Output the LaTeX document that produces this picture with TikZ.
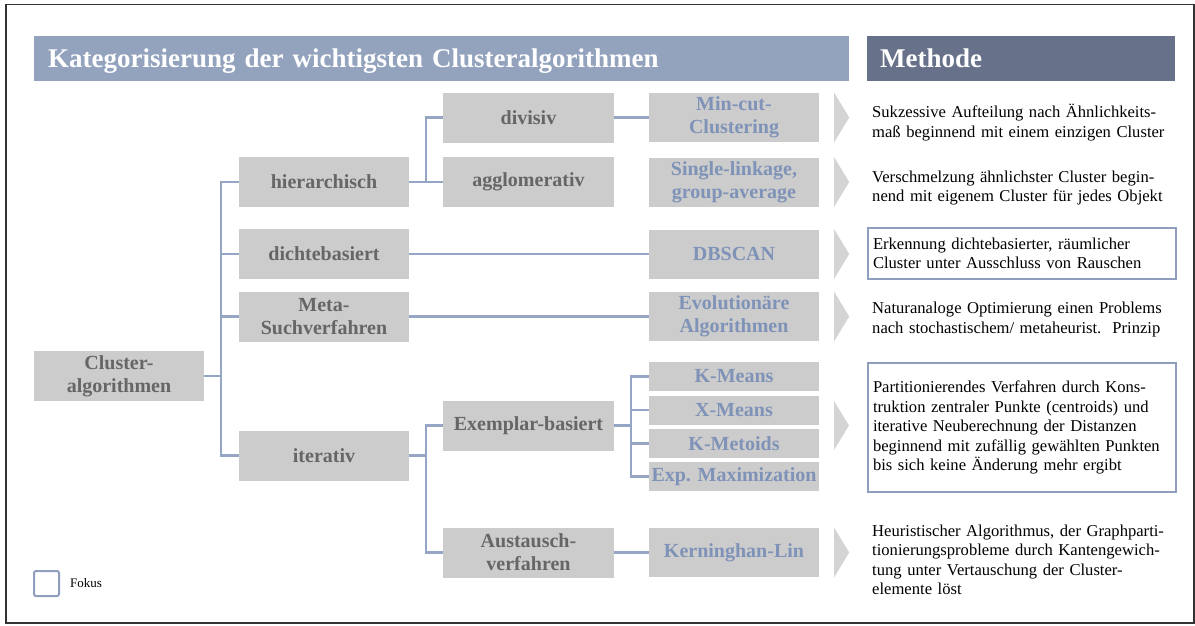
\documentclass[tikz,border=0pt]{standalone}
\usepackage{fontspec}
\setmainfont{Liberation Serif}
\usetikzlibrary{positioning}

\definecolor{headlight}{HTML}{93A3BE}
\definecolor{headdark}{HTML}{67728A}
\definecolor{boxgray}{HTML}{CCCCCC}
\definecolor{catgray}{HTML}{666666}
\definecolor{methblue}{HTML}{7F92B7}
\definecolor{connblue}{HTML}{94A6C4}
\definecolor{chevgray}{HTML}{D4D4D4}
\definecolor{focusblue}{HTML}{8E9EBC}

\newcommand{\titlefont}{\fontsize{27}{31}\selectfont\bfseries}
\newcommand{\catfont}{\fontsize{20}{23}\selectfont\bfseries}
\newcommand{\descfont}{\fontsize{16.6}{19.5}\selectfont}

\tikzset{
  headbox/.style={text=white, font=\titlefont, minimum height=45pt, text height=18.5pt,
    text depth=0pt, inner ysep=0pt, align=left, anchor=west},
  catbox/.style={fill=boxgray, text=catgray, font=\catfont, minimum width=170pt,
    minimum height=50pt, inner sep=0pt, align=center},
  methbox/.style={catbox, text=methblue, minimum height=49pt},
  smallbox/.style={methbox, minimum height=29pt},
  conn/.style={draw=connblue, line width=2.5pt},
  desc/.style={anchor=west, text width=298pt, inner xsep=5pt, align=left, font=\descfont},
  focus/.style={draw=focusblue, line width=2pt},
  chevron/.style={fill=chevgray},
}

\begin{document}
\begin{tikzpicture}[x=1pt, y=-1pt]
    \useasboundingbox (0,0) rectangle (1195,625);
    \draw[line width=1.3pt, black!80] (6,4.5) rectangle (1194,623);

    \node[headbox, fill=headlight, text width=787pt, inner xsep=14pt] (title) at (34,58.5)
      {Kategorisierung der wichtigsten Clusteralgorithmen};
    \node[headbox, fill=headdark, text width=282pt, inner xsep=13pt] (methode) at (867,58.5)
      {Methode};

    \node[catbox] (root) at (119,376) {Cluster-\\algorithmen};

    \node[catbox] (hier) at (324,182) {hierarchisch};
    \node[catbox] (dicht) at (324,254) {dichtebasiert};
    \node[catbox] (meta) at (324,316.5) {Meta-\\Suchverfahren};
    \node[catbox] (iter) at (324,455.5) {iterativ};

    \node[catbox, minimum width=171pt] (div) at (528.5,117.5) {divisiv};
    \node[catbox, minimum width=171pt] (agg) at (528.5,182) {agglomerativ};
    \node[catbox, minimum width=171pt] (exemplar) at (528.5,425.5) {Exemplar-basiert};
    \node[catbox, minimum width=171pt] (austausch) at (528.5,552.5) {Austausch-\\verfahren};

    \node[methbox] (mincut) at (734,117.5) {Min-cut-\\Clustering};
    \node[methbox] (single) at (734,182) {Single-linkage,\\group-average};
    \node[methbox] (dbscan) at (734,254) {DBSCAN};
    \node[methbox] (evo) at (734,316.5) {Evolutionäre\\Algorithmen};
    \node[smallbox] (kmeans) at (734,376.5) {K-Means};
    \node[smallbox] (xmeans) at (734,410) {X-Means};
    \node[smallbox] (kmetoids) at (734,443.5) {K-Metoids};
    \node[smallbox] (expmax) at (734,476.5) {Exp. Maximization};
    \node[methbox] (kerning) at (734,552.5) {Kerninghan-Lin};

    \coordinate (j1) at ([xshift=17pt]root.east);
    \coordinate (j2) at ([xshift=17pt]hier.east);
    \coordinate (j3) at ([xshift=17pt]iter.east);
    \coordinate (j4) at ([xshift=17pt]exemplar.east);

    \draw[conn] (root.east) -- (j1);
    \foreach \n in {hier,dicht,meta,iter}
      \draw[conn] (j1) |- (\n.west);
    \draw[conn] (hier.east) -- (j2);
    \foreach \n in {div,agg}
      \draw[conn] (j2) |- (\n.west);
    \draw[conn] (iter.east) -- (j3);
    \foreach \n in {exemplar,austausch}
      \draw[conn] (j3) |- (\n.west);
    \draw[conn] (exemplar.east) -- (j4);
    \foreach \n in {kmeans,xmeans,kmetoids,expmax}
      \draw[conn] (j4) |- (\n.west);
    \draw[conn] (div.east) -- (mincut.west);
    \draw[conn] (dicht.east) -- (dbscan.west);
    \draw[conn] (meta.east) -- (evo.west);
    \draw[conn] (austausch.east) -- (kerning.west);

    \foreach \m in {mincut,single,dbscan,evo,kerning}
      \fill[chevron] ([xshift=15pt]\m.north east) -- ([xshift=30pt]\m.east)
        -- ([xshift=15pt]\m.south east) -- cycle;
    \fill[chevron] (834,401) -- (849,425.5) -- (834,450) -- cycle;

    \node[desc] (d1) at (867,122.5)
      {Sukzessive Aufteilung nach Ähnlichkeits-\\maß beginnend mit einem einzigen Cluster};
    \node[desc] (d2) at (867,188)
      {Verschmelzung ähnlichster Cluster begin-\\nend mit eigenem Cluster für jedes Objekt};
    \node[desc, focus, minimum height=51pt] (d3) at (867,253.5)
      {Erkennung dichtebasierter, räumlicher\\Cluster unter Ausschluss von Rauschen};
    \node[desc] (d4) at (867,319.5)
      {Naturanaloge Optimierung einen Problems\\nach stochastischem/ metaheurist.\ \ Prinzip};
    \node[desc, focus, minimum height=129pt] (d5) at (867,427.5)
      {Partitionierendes Verfahren durch Kons-\\truktion zentraler Punkte (centroids) und\\
       iterative Neuberechnung der Distanzen\\beginnend mit zufällig gewählten Punkten\\
       bis sich keine Änderung mehr ergibt};
    \node[desc] (d6) at (867,560)
      {Heuristischer Algorithmus, der Graphparti-\\tionierungsprobleme durch Kantengewich-\\
       tung unter Vertauschung der Cluster-\\elemente löst};

    \node[focus, rounded corners=2pt, minimum size=25pt, inner sep=0pt] (legbox) at (46.5,583.5) {};
    \node[right=8pt of legbox, font=\fontsize{13}{15}\selectfont, inner sep=2pt] (legtext) {Fokus};
\end{tikzpicture}
\end{document}
